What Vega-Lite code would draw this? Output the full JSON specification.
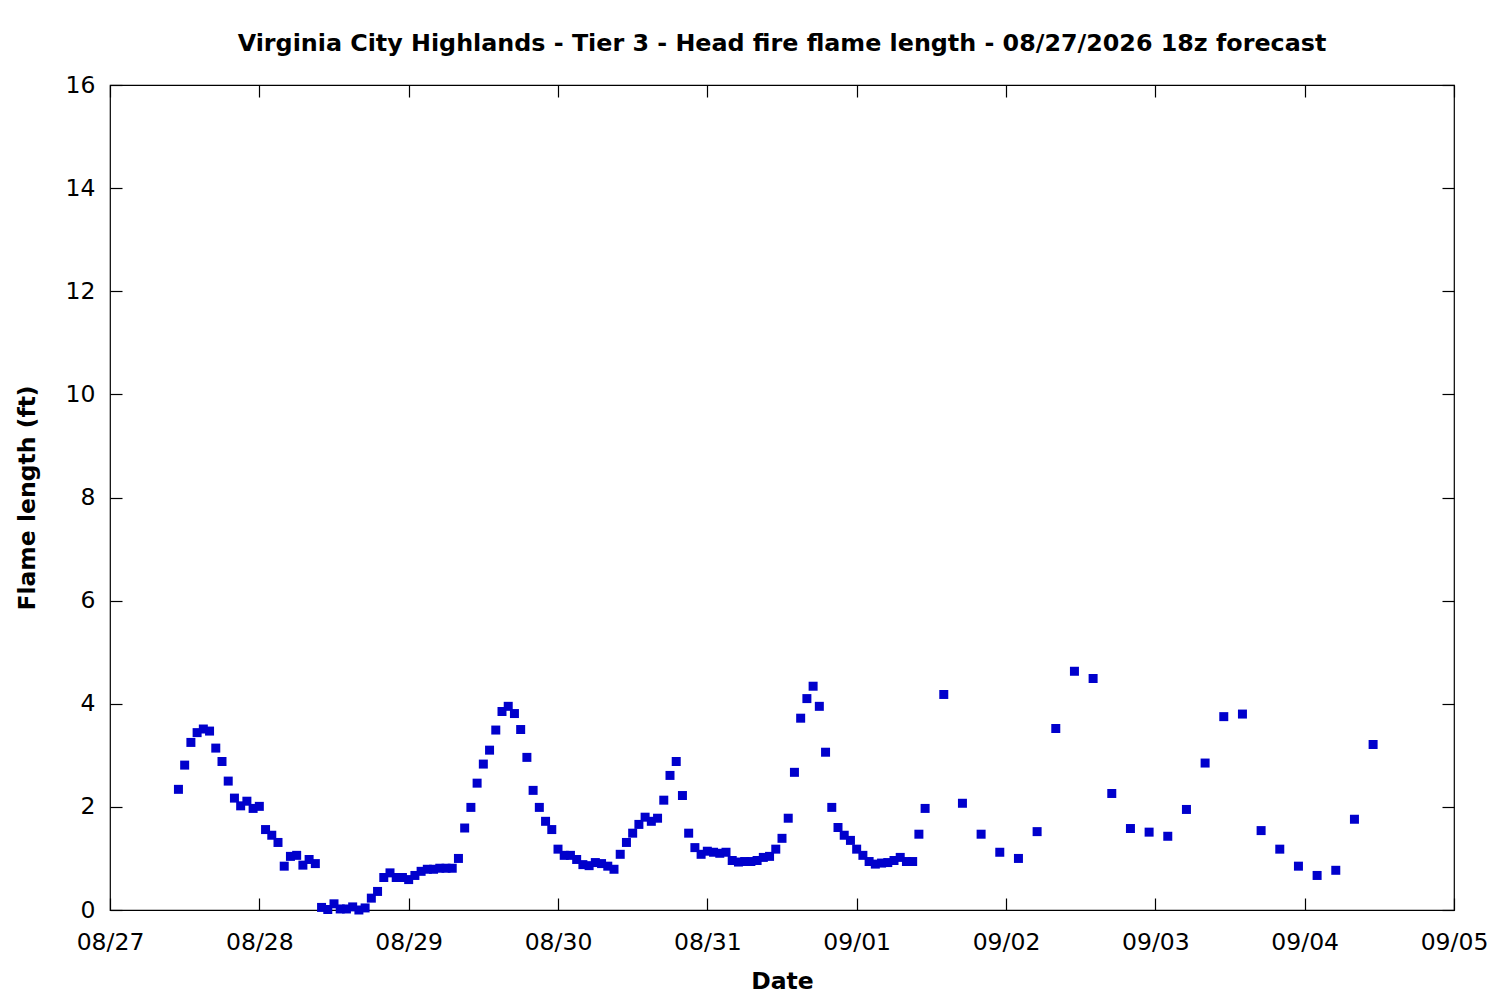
{
  "$schema": "https://vega.github.io/schema/vega-lite/v6.json",
  "width": 1344,
  "height": 825,
  "autosize": {"type": "none"},
  "padding": {"left": 110, "top": 85, "right": 46, "bottom": 90},
  "background": "white",
  "title": {
    "text": "Virginia City Highlands - Tier 3 - Head fire flame length - 08/27/2026 18z forecast",
    "font": "DejaVu Sans",
    "fontSize": 23.8,
    "fontWeight": "bold",
    "color": "black",
    "anchor": "middle",
    "offset": 17
  },
  "data": {
    "values": [
      {"t": "2026-08-27T11:00:00Z", "fl": 2.34},
      {"t": "2026-08-27T12:00:00Z", "fl": 2.81},
      {"t": "2026-08-27T13:00:00Z", "fl": 3.25},
      {"t": "2026-08-27T14:00:00Z", "fl": 3.44},
      {"t": "2026-08-27T15:00:00Z", "fl": 3.51},
      {"t": "2026-08-27T16:00:00Z", "fl": 3.47},
      {"t": "2026-08-27T17:00:00Z", "fl": 3.14},
      {"t": "2026-08-27T18:00:00Z", "fl": 2.88},
      {"t": "2026-08-27T19:00:00Z", "fl": 2.50},
      {"t": "2026-08-27T20:00:00Z", "fl": 2.17},
      {"t": "2026-08-27T21:00:00Z", "fl": 2.02},
      {"t": "2026-08-27T22:00:00Z", "fl": 2.11},
      {"t": "2026-08-27T23:00:00Z", "fl": 1.97},
      {"t": "2026-08-28T00:00:00Z", "fl": 2.01},
      {"t": "2026-08-28T01:00:00Z", "fl": 1.56},
      {"t": "2026-08-28T02:00:00Z", "fl": 1.45},
      {"t": "2026-08-28T03:00:00Z", "fl": 1.31},
      {"t": "2026-08-28T04:00:00Z", "fl": 0.85},
      {"t": "2026-08-28T05:00:00Z", "fl": 1.04},
      {"t": "2026-08-28T06:00:00Z", "fl": 1.06},
      {"t": "2026-08-28T07:00:00Z", "fl": 0.87},
      {"t": "2026-08-28T08:00:00Z", "fl": 0.98},
      {"t": "2026-08-28T09:00:00Z", "fl": 0.90},
      {"t": "2026-08-28T10:00:00Z", "fl": 0.05},
      {"t": "2026-08-28T11:00:00Z", "fl": 0.01},
      {"t": "2026-08-28T12:00:00Z", "fl": 0.12},
      {"t": "2026-08-28T13:00:00Z", "fl": 0.02},
      {"t": "2026-08-28T14:00:00Z", "fl": 0.02},
      {"t": "2026-08-28T15:00:00Z", "fl": 0.06},
      {"t": "2026-08-28T16:00:00Z", "fl": 0.00},
      {"t": "2026-08-28T17:00:00Z", "fl": 0.04},
      {"t": "2026-08-28T18:00:00Z", "fl": 0.23},
      {"t": "2026-08-28T19:00:00Z", "fl": 0.36},
      {"t": "2026-08-28T20:00:00Z", "fl": 0.63},
      {"t": "2026-08-28T21:00:00Z", "fl": 0.72},
      {"t": "2026-08-28T22:00:00Z", "fl": 0.63},
      {"t": "2026-08-28T23:00:00Z", "fl": 0.63},
      {"t": "2026-08-29T00:00:00Z", "fl": 0.59},
      {"t": "2026-08-29T01:00:00Z", "fl": 0.67},
      {"t": "2026-08-29T02:00:00Z", "fl": 0.75},
      {"t": "2026-08-29T03:00:00Z", "fl": 0.79},
      {"t": "2026-08-29T04:00:00Z", "fl": 0.79},
      {"t": "2026-08-29T05:00:00Z", "fl": 0.81},
      {"t": "2026-08-29T06:00:00Z", "fl": 0.81},
      {"t": "2026-08-29T07:00:00Z", "fl": 0.81},
      {"t": "2026-08-29T08:00:00Z", "fl": 1.00},
      {"t": "2026-08-29T09:00:00Z", "fl": 1.59},
      {"t": "2026-08-29T10:00:00Z", "fl": 1.99},
      {"t": "2026-08-29T11:00:00Z", "fl": 2.46},
      {"t": "2026-08-29T12:00:00Z", "fl": 2.83},
      {"t": "2026-08-29T13:00:00Z", "fl": 3.10},
      {"t": "2026-08-29T14:00:00Z", "fl": 3.49},
      {"t": "2026-08-29T15:00:00Z", "fl": 3.85},
      {"t": "2026-08-29T16:00:00Z", "fl": 3.95},
      {"t": "2026-08-29T17:00:00Z", "fl": 3.81},
      {"t": "2026-08-29T18:00:00Z", "fl": 3.50},
      {"t": "2026-08-29T19:00:00Z", "fl": 2.96},
      {"t": "2026-08-29T20:00:00Z", "fl": 2.32},
      {"t": "2026-08-29T21:00:00Z", "fl": 1.99},
      {"t": "2026-08-29T22:00:00Z", "fl": 1.72},
      {"t": "2026-08-29T23:00:00Z", "fl": 1.56},
      {"t": "2026-08-30T00:00:00Z", "fl": 1.18},
      {"t": "2026-08-30T01:00:00Z", "fl": 1.06},
      {"t": "2026-08-30T02:00:00Z", "fl": 1.06},
      {"t": "2026-08-30T03:00:00Z", "fl": 0.98},
      {"t": "2026-08-30T04:00:00Z", "fl": 0.88},
      {"t": "2026-08-30T05:00:00Z", "fl": 0.86},
      {"t": "2026-08-30T06:00:00Z", "fl": 0.92},
      {"t": "2026-08-30T07:00:00Z", "fl": 0.90},
      {"t": "2026-08-30T08:00:00Z", "fl": 0.85},
      {"t": "2026-08-30T09:00:00Z", "fl": 0.79},
      {"t": "2026-08-30T10:00:00Z", "fl": 1.08},
      {"t": "2026-08-30T11:00:00Z", "fl": 1.31},
      {"t": "2026-08-30T12:00:00Z", "fl": 1.49},
      {"t": "2026-08-30T13:00:00Z", "fl": 1.66},
      {"t": "2026-08-30T14:00:00Z", "fl": 1.80},
      {"t": "2026-08-30T15:00:00Z", "fl": 1.72},
      {"t": "2026-08-30T16:00:00Z", "fl": 1.78},
      {"t": "2026-08-30T17:00:00Z", "fl": 2.13},
      {"t": "2026-08-30T18:00:00Z", "fl": 2.61},
      {"t": "2026-08-30T19:00:00Z", "fl": 2.88},
      {"t": "2026-08-30T20:00:00Z", "fl": 2.22},
      {"t": "2026-08-30T21:00:00Z", "fl": 1.49},
      {"t": "2026-08-30T22:00:00Z", "fl": 1.21},
      {"t": "2026-08-30T23:00:00Z", "fl": 1.08},
      {"t": "2026-08-31T00:00:00Z", "fl": 1.14},
      {"t": "2026-08-31T01:00:00Z", "fl": 1.12},
      {"t": "2026-08-31T02:00:00Z", "fl": 1.10},
      {"t": "2026-08-31T03:00:00Z", "fl": 1.12},
      {"t": "2026-08-31T04:00:00Z", "fl": 0.96},
      {"t": "2026-08-31T05:00:00Z", "fl": 0.93},
      {"t": "2026-08-31T06:00:00Z", "fl": 0.94},
      {"t": "2026-08-31T07:00:00Z", "fl": 0.94},
      {"t": "2026-08-31T08:00:00Z", "fl": 0.96},
      {"t": "2026-08-31T09:00:00Z", "fl": 1.02},
      {"t": "2026-08-31T10:00:00Z", "fl": 1.04},
      {"t": "2026-08-31T11:00:00Z", "fl": 1.18},
      {"t": "2026-08-31T12:00:00Z", "fl": 1.39},
      {"t": "2026-08-31T13:00:00Z", "fl": 1.78},
      {"t": "2026-08-31T14:00:00Z", "fl": 2.67},
      {"t": "2026-08-31T15:00:00Z", "fl": 3.72},
      {"t": "2026-08-31T16:00:00Z", "fl": 4.10},
      {"t": "2026-08-31T17:00:00Z", "fl": 4.34},
      {"t": "2026-08-31T18:00:00Z", "fl": 3.95},
      {"t": "2026-08-31T19:00:00Z", "fl": 3.06},
      {"t": "2026-08-31T20:00:00Z", "fl": 1.99},
      {"t": "2026-08-31T21:00:00Z", "fl": 1.60},
      {"t": "2026-08-31T22:00:00Z", "fl": 1.45},
      {"t": "2026-08-31T23:00:00Z", "fl": 1.35},
      {"t": "2026-09-01T00:00:00Z", "fl": 1.18},
      {"t": "2026-09-01T01:00:00Z", "fl": 1.06},
      {"t": "2026-09-01T02:00:00Z", "fl": 0.94},
      {"t": "2026-09-01T03:00:00Z", "fl": 0.89},
      {"t": "2026-09-01T04:00:00Z", "fl": 0.91},
      {"t": "2026-09-01T05:00:00Z", "fl": 0.92},
      {"t": "2026-09-01T06:00:00Z", "fl": 0.96},
      {"t": "2026-09-01T07:00:00Z", "fl": 1.02},
      {"t": "2026-09-01T08:00:00Z", "fl": 0.94},
      {"t": "2026-09-01T09:00:00Z", "fl": 0.94},
      {"t": "2026-09-01T10:00:00Z", "fl": 1.47},
      {"t": "2026-09-01T11:00:00Z", "fl": 1.97},
      {"t": "2026-09-01T14:00:00Z", "fl": 4.18},
      {"t": "2026-09-01T17:00:00Z", "fl": 2.07},
      {"t": "2026-09-01T20:00:00Z", "fl": 1.47},
      {"t": "2026-09-01T23:00:00Z", "fl": 1.12},
      {"t": "2026-09-02T02:00:00Z", "fl": 1.00},
      {"t": "2026-09-02T05:00:00Z", "fl": 1.52},
      {"t": "2026-09-02T08:00:00Z", "fl": 3.52},
      {"t": "2026-09-02T11:00:00Z", "fl": 4.63},
      {"t": "2026-09-02T14:00:00Z", "fl": 4.49},
      {"t": "2026-09-02T17:00:00Z", "fl": 2.26},
      {"t": "2026-09-02T20:00:00Z", "fl": 1.58},
      {"t": "2026-09-02T23:00:00Z", "fl": 1.51},
      {"t": "2026-09-03T02:00:00Z", "fl": 1.43},
      {"t": "2026-09-03T05:00:00Z", "fl": 1.95},
      {"t": "2026-09-03T08:00:00Z", "fl": 2.85},
      {"t": "2026-09-03T11:00:00Z", "fl": 3.75},
      {"t": "2026-09-03T14:00:00Z", "fl": 3.80},
      {"t": "2026-09-03T17:00:00Z", "fl": 1.54},
      {"t": "2026-09-03T20:00:00Z", "fl": 1.18},
      {"t": "2026-09-03T23:00:00Z", "fl": 0.85},
      {"t": "2026-09-04T02:00:00Z", "fl": 0.67},
      {"t": "2026-09-04T05:00:00Z", "fl": 0.77},
      {"t": "2026-09-04T08:00:00Z", "fl": 1.76},
      {"t": "2026-09-04T11:00:00Z", "fl": 3.21}
    ]
  },
  "layer": [
    {
      "mark": {"type": "square", "size": 81, "color": "#0000CC", "opacity": 1, "filled": true},
      "encoding": {
        "x": {
          "field": "t", "type": "temporal",
          "scale": {"type": "utc", "domain": ["2026-08-27T00:00:00Z", "2026-09-05T00:00:00Z"]},
          "axis": {
            "orient": "bottom", "title": "Date", "format": "%m/%d",
            "tickCount": {"interval": "day", "step": 1},
            "tickSize": -12, "labelPadding": 32, "titlePadding": 16
          }
        },
        "y": {
          "field": "fl", "type": "quantitative",
          "scale": {"domain": [0, 16], "nice": false, "zero": true},
          "axis": {
            "orient": "left", "title": "Flame length (ft)", "values": [0, 2, 4, 6, 8, 10, 12, 14, 16],
            "tickSize": -12, "labelPadding": 27, "titlePadding": 26
          }
        }
      }
    },
    {
      "mark": {"type": "square", "size": 81, "opacity": 0},
      "encoding": {
        "x": {
          "field": "t", "type": "temporal",
          "axis": {
            "orient": "top", "title": null, "labels": false,
            "tickCount": {"interval": "day", "step": 1}, "tickSize": -12
          }
        },
        "y": {
          "field": "fl", "type": "quantitative",
          "axis": {
            "orient": "right", "title": null, "labels": false,
            "values": [0, 2, 4, 6, 8, 10, 12, 14, 16], "tickSize": -12
          }
        }
      }
    }
  ],
  "resolve": {"axis": {"x": "independent", "y": "independent"}},
  "config": {
    "view": {"stroke": "black", "strokeWidth": 1.2},
    "axis": {
      "domain": false,
      "grid": false,
      "ticks": true,
      "tickColor": "black",
      "tickWidth": 1.2,
      "labelFont": "DejaVu Sans",
      "labelFontSize": 23.5,
      "labelColor": "black",
      "labelFlush": false,
      "labelOverlap": false,
      "titleFont": "DejaVu Sans",
      "titleFontSize": 23.5,
      "titleFontWeight": "bold",
      "titleColor": "black"
    }
  }
}
